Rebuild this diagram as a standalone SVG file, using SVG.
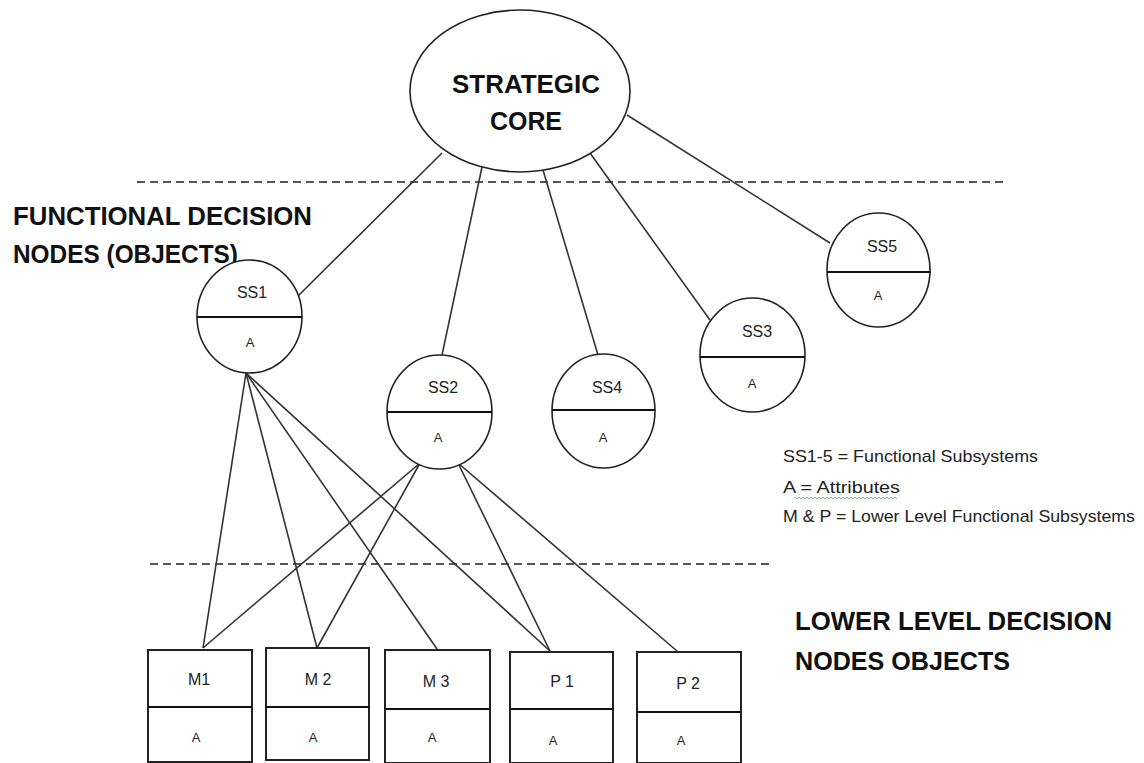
<svg xmlns="http://www.w3.org/2000/svg" width="1144" height="763" viewBox="0 0 1144 763">
<style>
.shape{fill:#fff;stroke:#222;stroke-width:1.6}
.box{fill:#fff;stroke:#222;stroke-width:2}
.div{stroke:#111;stroke-width:2}
.conn{stroke:#333;stroke-width:1.6;fill:none}
.dash{stroke:#222;stroke-width:1.6;stroke-dasharray:8 5;fill:none}
.big{font-family:"Liberation Sans",Arial,sans-serif;font-weight:bold;font-size:25px;fill:#111}
.lbl{font-family:"Liberation Sans",Arial,sans-serif;font-size:16px;fill:#222;text-anchor:middle}
.att{font-family:"Liberation Sans",Arial,sans-serif;font-size:13px;fill:#222;text-anchor:middle}
.leg{font-family:"Liberation Sans",Arial,sans-serif;font-size:17px;fill:#222}
</style>
<rect width="1144" height="763" fill="#fff"/>
<g id="separators">
<line class="dash" x1="137" y1="182" x2="1008" y2="182"/>
<line class="dash" x1="150" y1="564" x2="772" y2="564"/>
</g>
<g id="connectors">
<line class="conn" x1="442" y1="153" x2="297" y2="297"/>
<line class="conn" x1="482" y1="167" x2="442" y2="355"/>
<line class="conn" x1="543" y1="170" x2="598" y2="355"/>
<line class="conn" x1="590" y1="153" x2="710" y2="320"/>
<line class="conn" x1="627" y1="115" x2="830" y2="243"/>
<line class="conn" x1="246" y1="373" x2="203" y2="648"/>
<line class="conn" x1="246" y1="373" x2="317" y2="648"/>
<line class="conn" x1="246" y1="373" x2="437" y2="649"/>
<line class="conn" x1="246" y1="373" x2="550" y2="651"/>
<line class="conn" x1="420" y1="463" x2="203" y2="648"/>
<line class="conn" x1="420" y1="463" x2="317" y2="648"/>
<line class="conn" x1="458" y1="463" x2="550" y2="651"/>
<line class="conn" x1="458" y1="463" x2="677" y2="651"/>
</g>
<g id="core">
<ellipse class="shape" cx="520" cy="91" rx="110" ry="81"/>
<text class="big" x="526" y="93" text-anchor="middle" textLength="148" lengthAdjust="spacingAndGlyphs">STRATEGIC</text>
<text class="big" x="526" y="130" text-anchor="middle" textLength="72" lengthAdjust="spacingAndGlyphs">CORE</text>
</g>
<g id="label-functional">
<text class="big" x="13" y="225" textLength="299" lengthAdjust="spacingAndGlyphs">FUNCTIONAL DECISION</text>
<text class="big" x="13" y="263" textLength="225" lengthAdjust="spacingAndGlyphs">NODES (OBJECTS)</text>
</g>
<g id="ss1">
<ellipse class="shape" cx="249.5" cy="316.5" rx="52.5" ry="56.5"/>
<line class="div" x1="197" y1="317" x2="302" y2="317"/>
<text class="lbl" x="252" y="298">SS1</text>
<text class="att" x="250" y="347">A</text>
</g>
<g id="ss2">
<ellipse class="shape" cx="439.5" cy="412" rx="52.5" ry="57"/>
<line class="div" x1="387" y1="412" x2="492" y2="412"/>
<text class="lbl" x="443" y="393">SS2</text>
<text class="att" x="438" y="442">A</text>
</g>
<g id="ss4">
<ellipse class="shape" cx="603.5" cy="411" rx="51.5" ry="57"/>
<line class="div" x1="552" y1="410" x2="655" y2="410"/>
<text class="lbl" x="607" y="393">SS4</text>
<text class="att" x="603" y="442">A</text>
</g>
<g id="ss3">
<ellipse class="shape" cx="752.5" cy="355" rx="52.5" ry="57"/>
<line class="div" x1="700" y1="357" x2="805" y2="357"/>
<text class="lbl" x="757" y="337">SS3</text>
<text class="att" x="752" y="388">A</text>
</g>
<g id="ss5">
<ellipse class="shape" cx="878.5" cy="270" rx="51.5" ry="57"/>
<line class="div" x1="827" y1="272" x2="931" y2="272"/>
<text class="lbl" x="882" y="252">SS5</text>
<text class="att" x="878" y="300">A</text>
</g>
<g id="legend">
<text class="leg" x="783" y="462" textLength="255" lengthAdjust="spacingAndGlyphs">SS1-5 = Functional Subsystems</text>
<text class="leg" x="783" y="493" textLength="117" lengthAdjust="spacingAndGlyphs">A =  Attributes</text>
<path d="M795,497 l2,2 l2,-2 l2,2 l2,-2 l2,2 l2,-2 l2,2 l2,-2 l2,2 l2,-2 l2,2 l2,-2 l2,2 l2,-2 l2,2 l2,-2 l2,2 l2,-2 l2,2 l2,-2 l2,2 l2,-2 l2,2 l2,-2 l2,2 l2,-2 l2,2 l2,-2 l2,2 l2,-2 l2,2 l2,-2 l2,2 l2,-2 l2,2 l2,-2 l2,2 l2,-2 l2,2 l2,-2 l2,2 l2,-2 l2,2 l2,-2 l2,2 l2,-2 l2,2 l2,-2 l2,2 l2,-2 l2,2" fill="none" stroke="#7cb87c" stroke-width="1"/>
<text class="leg" x="783" y="522" textLength="352" lengthAdjust="spacingAndGlyphs">M &amp; P = Lower Level Functional Subsystems</text>
</g>
<g id="label-lower">
<text class="big" x="795" y="630" textLength="317" lengthAdjust="spacingAndGlyphs">LOWER LEVEL DECISION</text>
<text class="big" x="795" y="670" textLength="215" lengthAdjust="spacingAndGlyphs">NODES OBJECTS</text>
</g>
<g id="m1">
<rect class="box" x="148" y="650" width="104" height="112"/>
<line class="div" x1="148" y1="707" x2="252" y2="707"/>
<text class="lbl" x="199" y="685">M1</text>
<text class="att" x="196" y="742">A</text>
</g>
<g id="m2">
<rect class="box" x="266" y="648" width="103" height="112"/>
<line class="div" x1="266" y1="707" x2="369" y2="707"/>
<text class="lbl" x="318" y="685">M 2</text>
<text class="att" x="313" y="742">A</text>
</g>
<g id="m3">
<rect class="box" x="385" y="650" width="105" height="113"/>
<line class="div" x1="385" y1="709" x2="490" y2="709"/>
<text class="lbl" x="436" y="687">M 3</text>
<text class="att" x="432" y="742">A</text>
</g>
<g id="p1">
<rect class="box" x="510" y="652" width="103" height="111"/>
<line class="div" x1="510" y1="709" x2="613" y2="709"/>
<text class="lbl" x="562" y="687">P 1</text>
<text class="att" x="553" y="745">A</text>
</g>
<g id="p2">
<rect class="box" x="637" y="652" width="104" height="111"/>
<line class="div" x1="637" y1="712" x2="741" y2="712"/>
<text class="lbl" x="688" y="689">P 2</text>
<text class="att" x="681" y="745">A</text>
</g>
</svg>
